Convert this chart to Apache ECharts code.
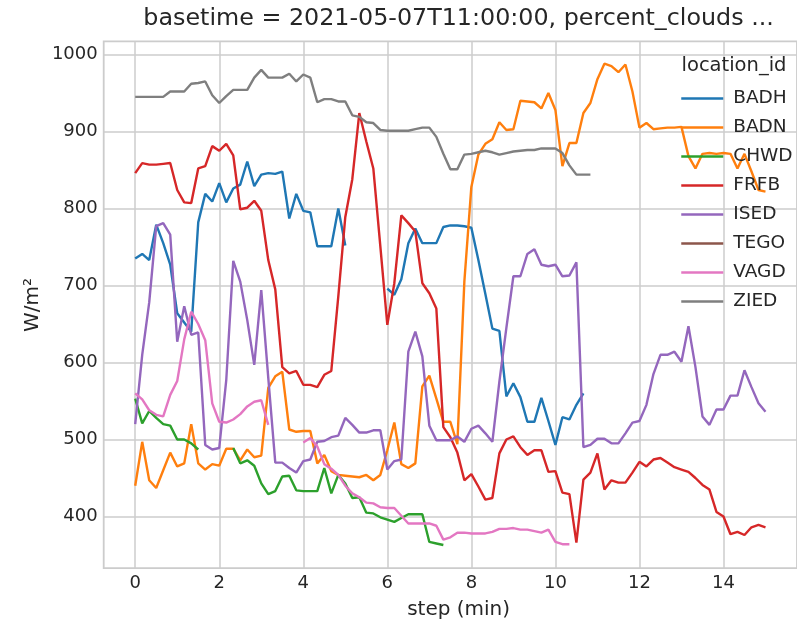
<!DOCTYPE html>
<html>
<head>
<meta charset="utf-8">
<script src="https://cdn.jsdelivr.net/npm/echarts@6/dist/echarts.min.js"></script>
<style>
html,body{margin:0;padding:0;background:#fff;}
#chart{width:797px;height:626px;}
</style>
</head>
<body>
<div id="chart"></div>
<script>
// sampling step of the data (minutes)
const STEP = 1 / 6;
const locations = ['BADH', 'BADN', 'CHWD', 'FRFB', 'ISED', 'TEGO', 'VAGD', 'ZIED'];
const xTicks = [0, 2, 4, 6, 8, 10, 12, 14];
const yTicks = [400, 500, 600, 700, 800, 900, 1000];

const BADH = [735,741,733,779,755,727,664,652,640,782, 819,809,833,808,826,831,861,829,844,846,
  845,848,787,819,797,795,751,751,751,800, 752,null,null,null,null,null,696,688,708,755,
  774,755,755,755,776,778,778,777,775,733, 689,644,641,556,573,555,523,523,554,524,
  493,529,526,545,560];
const BADN = [440,497,447,437,460,483,465,469,520,469, 461,468,466,488,488,473,487,477,479,567,
  582,588,513,510,511,511,469,480,459,454, 453,452,451,454,447,454,486,522,468,463,
  469,569,583,553,523,523,494,705,828,870, 884,890,912,902,903,940,939,938,930,950,
  928,855,885,885,924,937,968,988,985,977, 987,952,905,911,903,904,905,905,906,868,
  852,871,872,871,872,871,852,871,848,824, 822];
const CHWD = [553,521,537,528,520,518,500,500,495,487, null,null,null,null,
  489,469,473,466,443,429,433,452,453,434, 433,433,433,463,430,454,443,424,425,405,
  404,399,396,393,398,403,403,403,367,365, 363];
const FRFB = [846,859,857,857,858,859,824,808,807,852, 855,881,875,884,869,799,801,810,797,733,
  695,594,586,589,571,571,568,584,589,686, 789,838,924,887,852,751,649,703,791,781,
  770,703,690,670,516,503,483,447,455,439, 422,424,482,500,504,490,480,486,486,458,
  459,431,429,366,448,457,482,435,447,444, 444,457,471,465,474,476,470,464,461,458,
  450,441,435,406,400,377,380,376,386,389, 386];
const ISED = [520,610,678,777,781,766,627,673,636,639, 493,487,489,577,732,705,655,597,694,580,
  470,470,463,457,472,474,497,498,503,505, 528,519,509,509,512,512,461,472,474,614,
  640,608,518,499,499,499,504,497,514,518, 508,497,575,645,712,712,741,747,727,725,
  727,712,713,730,490,493,501,501,495,495, 508,522,524,545,585,610,610,614,601,647,
  594,530,519,539,539,557,557,590,568,547, 536];
const TEGO = [];
const VAGD = [560,552,538,532,530,558,576,630,666,650, 629,547,523,522,526,533,543,549,551,519,
  null,null,null,null,
  496,502,491,468,462,454,440,430,425,418, 417,412,411,411,401,391,391,391,391,388,
  370,373,379,379,378,378,378,380,384,384, 385,383,383,381,379,383,367,364,364];
const ZIED = [945,945,945,945,945,952,952,952,962,963, 965,947,937,946,954,954,954,970,980,970,
  970,970,975,965,974,970,938,942,942,939, 939,921,919,912,911,902,901,901,901,901,
  903,905,905,893,871,851,851,870,871,873, 875,873,870,872,874,875,876,876,878,878,
  878,872,856,844,844,844];

const valuesByLocation = {BADH, BADN, CHWD, FRFB, ISED, TEGO, VAGD, ZIED};
const palette = ['#1f77b4','#ff7f0e','#2ca02c','#d62728','#9467bd','#8c564b','#e377c2','#7f7f7f'];

const FONT = '"DejaVu Sans", "Noto Sans", sans-serif';
const TXT = '#262626';
const GRIDC = '#cccccc';

const series = locations.map((name, k) => ({
  name: name,
  type: 'line',
  symbol: 'none',
  showSymbol: false,
  connectNulls: false,
  animation: false,
  z: 2 + k,
  color: palette[k],
  lineStyle: {width: 2.4, color: palette[k]},
  emphasis: {disabled: true},
  data: valuesByLocation[name].map((v, i) => [i * STEP, v == null ? '-' : v])
}));

const chart = echarts.init(document.getElementById('chart'), null, {renderer: 'canvas'});
chart.setOption({
  backgroundColor: '#ffffff',
  animation: false,
  textStyle: {fontFamily: FONT},
  grid: {
    left: 103.7, right: -16.6, top: 41.4, bottom: 57.9,
    show: true, borderColor: GRIDC, borderWidth: 1.8, backgroundColor: 'transparent'
  },
  xAxis: {
    type: 'value', min: -0.75, max: 15.75,
    axisLine: {show: false},
    axisTick: {show: false, customValues: xTicks},
    axisLabel: {customValues: xTicks, fontSize: 18, color: TXT, fontFamily: FONT, margin: 6,
      formatter: v => String(v)},
    splitLine: {show: true, lineStyle: {color: GRIDC, width: 1.5}}
  },
  yAxis: {
    type: 'value', min: 333, max: 1017,
    axisLine: {show: false},
    axisTick: {show: false, customValues: yTicks},
    axisLabel: {customValues: yTicks, fontSize: 18, color: TXT, fontFamily: FONT, margin: 6,
      formatter: v => String(v)},
    splitLine: {show: true, lineStyle: {color: GRIDC, width: 1.5}}
  },
  legend: {
    orient: 'vertical',
    left: 675, top: 84,
    itemWidth: 42, itemHeight: 20, itemGap: 10,
    data: locations,
    itemStyle: {opacity: 0},
    lineStyle: {width: 2.5},
    textStyle: {fontSize: 18.5, color: TXT, fontFamily: FONT, padding: [0, 0, 0, 5]},
    selectedMode: false
  },
  graphic: [
    {type: 'text', x: 458.6, y: 19, z: 100,
     style: {text: 'basetime = 2021-05-07T11:00:00, percent_clouds ...', fontSize: 23.8, fontFamily: FONT, fill: TXT, align: 'center', verticalAlign: 'middle'}},
    {type: 'text', x: 734, y: 66, z: 100,
     style: {text: 'location_id', fontSize: 19.5, fontFamily: FONT, fill: TXT, align: 'center', verticalAlign: 'middle'}},
    {type: 'text', x: 458.6, y: 610, z: 100,
     style: {text: 'step (min)', fontSize: 20, fontFamily: FONT, fill: TXT, align: 'center', verticalAlign: 'middle'}},
    {type: 'text', x: 33, y: 305, rotation: Math.PI / 2, z: 100,
     style: {text: 'W/m²', fontSize: 20, fontFamily: FONT, fill: TXT, align: 'center', verticalAlign: 'middle'}}
  ],
  series: series
});
</script>
</body>
</html>
